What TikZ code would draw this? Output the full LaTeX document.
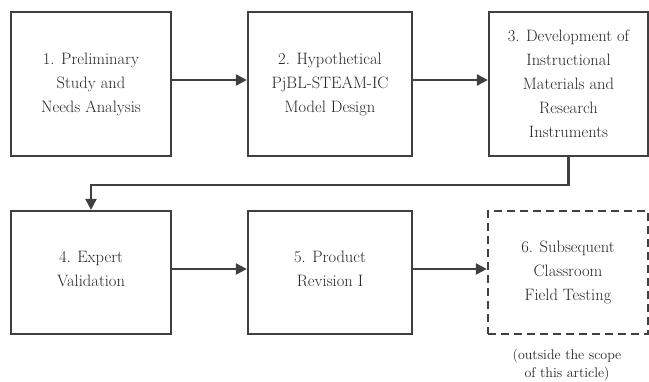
\documentclass[tikz,border=0pt]{standalone}
\usetikzlibrary{arrows.meta}
\begin{document}
\begin{tikzpicture}[x=1pt,y=-1pt,
  stage/.style={draw=black!75, line width=2.3pt, fill=white, text=black!85,
    align=center, inner sep=0pt, font=\fontsize{16.5}{24}\selectfont},
  later/.style={stage, dashed, dash pattern=on 8pt off 5pt},
  flow/.style={draw=black!75, line width=2.3pt,
    -{Triangle[length=11pt,width=11pt]}},
  note/.style={text=black!85, align=center, font=\fontsize{14}{18}\selectfont}]
\useasboundingbox[fill=white] (0,0) rectangle (649,381);

% first row
\node[stage, minimum width=160pt, minimum height=144pt] (b1) at (91,84)
  {1. Preliminary\\Study and\\Needs Analysis};
\node[stage, minimum width=164pt, minimum height=144pt] (b2) at (330,84)
  {2. Hypothetical\\PjBL-STEAM-IC\\Model Design};
\node[stage, minimum width=159pt, minimum height=144pt] (b3) at (568.5,84)
  {3. Development of\\Instructional\\Materials and\\Research\\Instruments};

% second row
\node[stage, minimum width=160pt, minimum height=123pt] (b4) at (91,272.5)
  {4. Expert\\Validation\\[-16pt]\mbox{}};
\node[stage, minimum width=164pt, minimum height=123pt] (b5) at (330,272.5)
  {5. Product\\Revision I\\[-16pt]\mbox{}};
\node[later, minimum width=160pt, minimum height=123pt] (b6) at (568,272.5)
  {6. Subsequent\\Classroom\\Field Testing};
\node[note] (n6) at (567,365) {(outside the scope\\of this article)};

% connectors (slightly above the box centres)
\coordinate (turn) at (0,185);
\draw[flow] ([yshift=4pt]b1.east) -- ([yshift=4pt]b2.west);
\draw[flow] ([yshift=4pt]b2.east) -- ([yshift=4pt]b3.west);
\draw[flow] (b3.south) |- (b4.north |- turn) -- (b4.north);
\draw[flow] ([yshift=3.5pt]b4.east) -- ([yshift=3.5pt]b5.west);
\draw[flow] ([yshift=3.5pt]b5.east) -- ([yshift=3.5pt]b6.west);
\end{tikzpicture}
\end{document}
